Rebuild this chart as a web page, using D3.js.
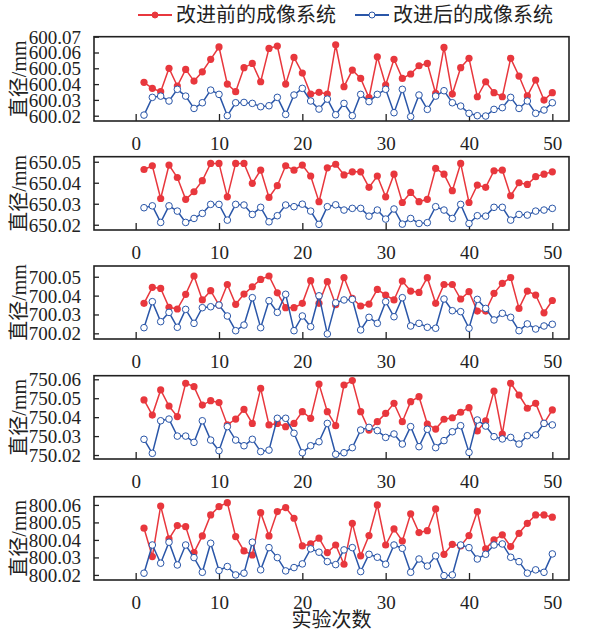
<!DOCTYPE html>
<html>
<head>
<meta charset="utf-8">
<script src="https://cdn.jsdelivr.net/npm/d3@7"></script>
<style>
  body { margin: 0; background: #fff; }
  text { font-family: "Liberation Serif", "Noto Sans CJK SC", serif; fill: #222; }
</style>
</head>
<body>
<div id="chart"></div>
<script>
// measurement number 1..50
var runs = d3.range(1, 51);
var xTicks = [0, 10, 20, 30, 40, 50];
var seriesNames = ["改进前的成像系统", "改进后的成像系统"];

// 600 mm
var before600 = [600.0411, 600.0373, 600.0352, 600.0500, 600.0388, 600.0493, 600.0419, 600.0478, 600.0557, 600.0635,
  600.0400, 600.0352, 600.0504, 600.0531, 600.0415, 600.0626, 600.0641, 600.0400, 600.0569, 600.0470,
  600.0337, 600.0348, 600.0337, 600.0649, 600.0384, 600.0489, 600.0436, 600.0314, 600.0573, 600.0394,
  600.0557, 600.0436, 600.0464, 600.0516, 600.0531, 600.0341, 600.0632, 600.0337, 600.0504, 600.0563,
  600.0320, 600.0415, 600.0346, 600.0320, 600.0563, 600.0451, 600.0325, 600.0426, 600.0299, 600.0346];
var after600 = [600.0204, 600.0316, 600.0324, 600.0293, 600.0367, 600.0324, 600.0246, 600.0282, 600.0362, 600.0335,
  600.0200, 600.0282, 600.0284, 600.0278, 600.0257, 600.0263, 600.0316, 600.0208, 600.0331, 600.0373,
  600.0293, 600.0242, 600.0305, 600.0206, 600.0278, 600.0200, 600.0335, 600.0289, 600.0335, 600.0367,
  600.0219, 600.0367, 600.0194, 600.0331, 600.0240, 600.0324, 600.0358, 600.0282, 600.0261, 600.0215,
  600.0200, 600.0198, 600.0240, 600.0251, 600.0316, 600.0246, 600.0293, 600.0215, 600.0236, 600.0282];
var ticks600 = [600.02, 600.03, 600.04, 600.05, 600.06, 600.07];

// 650 mm
var before650 = [650.0463, 650.0481, 650.0325, 650.0484, 650.0425, 650.0321, 650.0357, 650.0410, 650.0492, 650.0492,
  650.0333, 650.0492, 650.0492, 650.0397, 650.0460, 650.0330, 650.0386, 650.0481, 650.0460, 650.0484,
  650.0432, 650.0310, 650.0471, 650.0488, 650.0437, 650.0452, 650.0452, 650.0378, 650.0432, 650.0333,
  650.0441, 650.0306, 650.0354, 650.0310, 650.0321, 650.0468, 650.0441, 650.0362, 650.0492, 650.0306,
  650.0389, 650.0378, 650.0457, 650.0460, 650.0338, 650.0400, 650.0392, 650.0429, 650.0441, 650.0452];
var after650 = [650.0281, 650.0290, 650.0211, 650.0290, 650.0265, 650.0211, 650.0230, 650.0254, 650.0297, 650.0297,
  650.0222, 650.0297, 650.0294, 650.0249, 650.0283, 650.0214, 650.0243, 650.0294, 650.0286, 650.0298,
  650.0265, 650.0202, 650.0286, 650.0295, 650.0270, 650.0278, 650.0278, 650.0241, 650.0270, 650.0227,
  650.0275, 650.0203, 650.0230, 650.0206, 650.0210, 650.0286, 650.0270, 650.0230, 650.0297, 650.0206,
  650.0243, 650.0241, 650.0283, 650.0283, 650.0222, 650.0249, 650.0246, 650.0265, 650.0270, 650.0278];
var ticks650 = [650.02, 650.03, 650.04, 650.05];

// 700 mm
var before700 = [700.0359, 700.0444, 700.0438, 700.0338, 700.0329, 700.0407, 700.0504, 700.0377, 700.0426, 700.0350,
  700.0459, 700.0354, 700.0408, 700.0447, 700.0486, 700.0504, 700.0415, 700.0336, 700.0336, 700.0359,
  700.0479, 700.0359, 700.0474, 700.0352, 700.0496, 700.0385, 700.0345, 700.0355, 700.0433, 700.0403,
  700.0377, 700.0477, 700.0424, 700.0417, 700.0495, 700.0359, 700.0459, 700.0459, 700.0382, 700.0421,
  700.0318, 700.0318, 700.0412, 700.0465, 700.0496, 700.0332, 700.0424, 700.0403, 700.0309, 700.0374];
var after700 = [700.0230, 700.0368, 700.0262, 700.0311, 700.0232, 700.0327, 700.0253, 700.0336, 700.0341, 700.0350,
  700.0292, 700.0214, 700.0244, 700.0389, 700.0230, 700.0373, 700.0311, 700.0407, 700.0214, 700.0292,
  700.0235, 700.0399, 700.0197, 700.0362, 700.0377, 700.0380, 700.0218, 700.0285, 700.0253, 700.0368,
  700.0288, 700.0389, 700.0239, 700.0253, 700.0232, 700.0227, 700.0382, 700.0320, 700.0315, 700.0227,
  700.0380, 700.0332, 700.0271, 700.0306, 700.0285, 700.0214, 700.0250, 700.0223, 700.0239, 700.0248];
var ticks700 = [700.02, 700.03, 700.04, 700.05];

// 750 mm
var before750 = [750.0491, 750.0411, 750.0544, 750.0459, 750.0403, 750.0579, 750.0561, 750.0464, 750.0487, 750.0477,
  750.0359, 750.0390, 750.0441, 750.0367, 750.0552, 750.0359, 750.0367, 750.0350, 750.0367, 750.0429,
  750.0394, 750.0575, 750.0429, 750.0355, 750.0570, 750.0593, 750.0429, 750.0332, 750.0376, 750.0420,
  750.0473, 750.0376, 750.0482, 750.0508, 750.0364, 750.0337, 750.0389, 750.0397, 750.0426, 750.0450,
  750.0327, 750.0380, 750.0538, 750.0311, 750.0579, 750.0517, 750.0447, 750.0473, 750.0367, 750.0438];
var after750 = [750.0283, 750.0209, 750.0381, 750.0390, 750.0300, 750.0300, 750.0267, 750.0381, 750.0279, 750.0223,
  750.0350, 750.0279, 750.0249, 750.0283, 750.0218, 750.0226, 750.0394, 750.0394, 750.0315, 750.0212,
  750.0249, 750.0270, 750.0367, 750.0204, 750.0212, 750.0239, 750.0332, 750.0346, 750.0329, 750.0293,
  750.0311, 750.0258, 750.0350, 750.0244, 750.0336, 750.0239, 750.0276, 750.0323, 750.0355, 750.0214,
  750.0385, 750.0353, 750.0297, 750.0285, 750.0293, 750.0258, 750.0302, 750.0306, 750.0367, 750.0359];
var ticks750 = [750.02, 750.03, 750.04, 750.05, 750.06];

// 800 mm
var before800 = [800.0467, 800.0305, 800.0594, 800.0406, 800.0482, 800.0476, 800.0328, 800.0423, 800.0543, 800.0590,
  800.0613, 800.0419, 800.0337, 800.0314, 800.0556, 800.0423, 800.0562, 800.0585, 800.0524, 800.0366,
  800.0377, 800.0410, 800.0328, 800.0371, 800.0261, 800.0495, 800.0309, 800.0425, 800.0600, 800.0371,
  800.0463, 800.0394, 800.0549, 800.0442, 800.0453, 800.0577, 800.0318, 800.0375, 800.0366, 800.0425,
  800.0562, 800.0349, 800.0400, 800.0429, 800.0362, 800.0438, 800.0495, 800.0543, 800.0543, 800.0530];
var after800 = [800.0210, 800.0371, 800.0267, 800.0387, 800.0257, 800.0371, 800.0299, 800.0215, 800.0381, 800.0225,
  800.0248, 800.0200, 800.0210, 800.0387, 800.0229, 800.0356, 800.0299, 800.0223, 800.0242, 800.0263,
  800.0349, 800.0330, 800.0276, 800.0259, 800.0343, 800.0356, 800.0219, 800.0318, 800.0301, 800.0261,
  800.0371, 800.0352, 800.0215, 800.0291, 800.0251, 800.0309, 800.0196, 800.0200, 800.0371, 800.0356,
  800.0291, 800.0318, 800.0371, 800.0377, 800.0301, 800.0276, 800.0210, 800.0229, 800.0215, 800.0320];
var ticks800 = [800.02, 800.03, 800.04, 800.05, 800.06];

var red = "#e8373d", blue = "#2a56a8";

// panel boxes (top/bottom in px) and the value range each box covers
var panels = [
  {before: before600, after: after600, ticks: ticks600, top: 36.7, bottom: 121, ymin: 600.01665, ymax: 600.07},
  {before: before650, after: after650, ticks: ticks650, top: 156.7, bottom: 230, ymin: 650.0175, ymax: 650.0524},
  {before: before700, after: after700, ticks: ticks700, top: 266, bottom: 339, ymin: 700.0170, ymax: 700.0557},
  {before: before750, after: after750, ticks: ticks750, top: 375.7, bottom: 459, ymin: 750.0179, ymax: 750.0619},
  {before: before800, after: after800, ticks: ticks800, top: 496.7, bottom: 580, ymin: 800.0171, ymax: 800.0647}
];

var left = 94, right = 569;

var svg = d3.select("#chart")
    .append("svg")
    .attr("width", 602)
    .attr("height", 635);

var x = d3.scaleLinear().domain([-5, 52]).range([left, right]);

panels.forEach(function(p) {
    var y = d3.scaleLinear().domain([p.ymin, p.ymax]).range([p.bottom, p.top]);
    var g = svg.append("g");

    // inside ticks + labels
    var yAxis = g.append("g")
        .attr("transform", "translate(" + left + ",0)")
        .call(d3.axisLeft(y).tickValues(p.ticks).tickSize(-5).tickPadding(13).tickFormat(d3.format(".2f")));
    var xAxis = g.append("g")
        .attr("transform", "translate(0," + p.bottom + ")")
        .call(d3.axisBottom(x).tickValues(xTicks).tickSize(-7).tickPadding(16).tickFormat(d3.format("d")));
    [yAxis, xAxis].forEach(function(a) {
        a.select(".domain").remove();
        a.selectAll("line").attr("stroke", "#222").attr("stroke-width", 1.3);
        a.selectAll("text").style("font-size", "19px").attr("fill", "#222");
    });
    yAxis.selectAll("text").attr("dy", "0.34em");

    // frame
    g.append("rect")
        .attr("x", left).attr("y", p.top)
        .attr("width", right - left).attr("height", p.bottom - p.top)
        .attr("fill", "none").attr("stroke", "#222").attr("stroke-width", 1.6);

    g.append("text")
        .attr("transform", "translate(26," + ((p.top + p.bottom) / 2) + ") rotate(-90)")
        .attr("text-anchor", "middle")
        .style("font-size", "20px")
        .text("直径/mm");

    var line = d3.line()
        .x(function(d, i) { return x(runs[i]); })
        .y(function(d) { return y(d); });

    // red: before, blue: after
    g.append("path").datum(p.before)
        .attr("d", line).attr("fill", "none").attr("stroke", red).attr("stroke-width", 1.5);
    g.selectAll(".dotR").data(p.before).enter().append("circle")
        .attr("cx", function(d, i) { return x(runs[i]); })
        .attr("cy", function(d) { return y(d); })
        .attr("r", 3.6).attr("fill", red);

    g.append("path").datum(p.after)
        .attr("d", line).attr("fill", "none").attr("stroke", blue).attr("stroke-width", 1.5);
    g.selectAll(".dotB").data(p.after).enter().append("circle")
        .attr("cx", function(d, i) { return x(runs[i]); })
        .attr("cy", function(d) { return y(d); })
        .attr("r", 3.3).attr("fill", "#fff").attr("stroke", blue).attr("stroke-width", 1);
});

svg.append("text")
    .attr("x", (left + right) / 2).attr("y", 627)
    .attr("text-anchor", "middle")
    .style("font-size", "20px")
    .text("实验次数");

// legend
var legend = [
  {name: seriesNames[0], color: red, x: 138, fill: red},
  {name: seriesNames[1], color: blue, x: 355, fill: "#fff"}
];
legend.forEach(function(l) {
    svg.append("line")
        .attr("x1", l.x).attr("x2", l.x + 34).attr("y1", 15).attr("y2", 15)
        .attr("stroke", l.color).attr("stroke-width", 2);
    svg.append("circle")
        .attr("cx", l.x + 17).attr("cy", 15).attr("r", 3)
        .attr("fill", l.fill).attr("stroke", l.color).attr("stroke-width", 1);
    svg.append("text")
        .attr("x", l.x + 38).attr("y", 22)
        .style("font-size", "20px")
        .text(l.name);
});
</script>
</body>
</html>
